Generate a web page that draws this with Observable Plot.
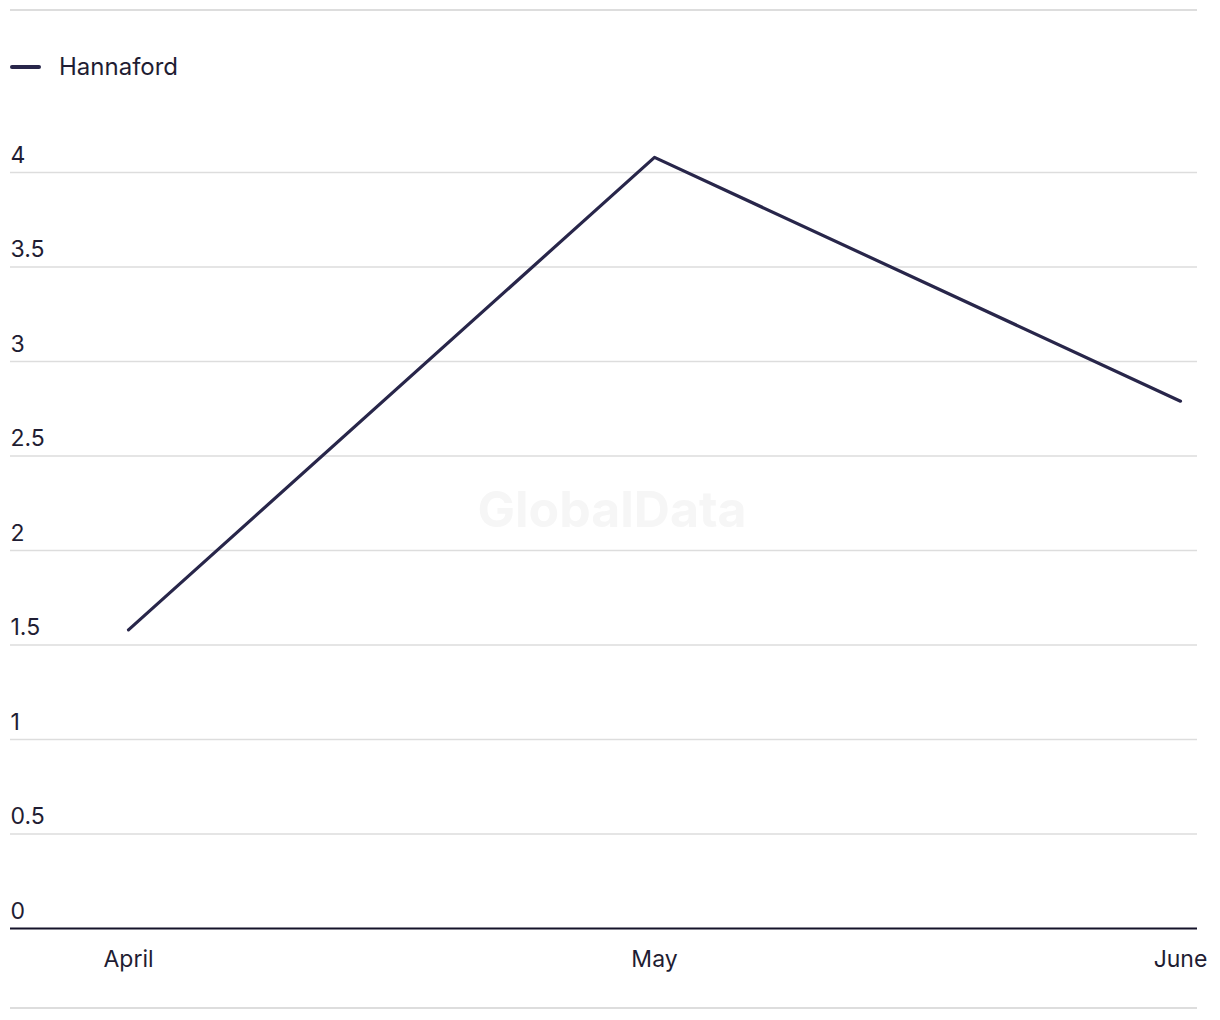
<!DOCTYPE html>
<html>
<head>
<meta charset="utf-8">
<script src="https://cdn.jsdelivr.net/npm/d3@7"></script>
<script src="https://cdn.jsdelivr.net/npm/@observablehq/plot@0.6"></script>
<style>
  html, body { margin: 0; padding: 0; background: #fff; }
  body { width: 1220px; height: 1020px; position: relative; font-family: "Inter", "Roboto", sans-serif; color: #1f1d33; overflow: hidden; }
  .rule { position: absolute; left: 10px; width: 1187px; height: 2px; background: #dddddd; }
  #legend { position: absolute; left: 10px; top: 52px; display: flex; align-items: center; font-size: 24px; }
  #legend .sw { width: 31px; height: 4px; background: #28264a; border-radius: 2px; margin-right: 18px; }
  #chart { position: absolute; left: 0; top: 100px; }
</style>
</head>
<body>
<div class="rule" style="top:9px"></div>
<div id="legend"><span class="sw"></span><span>Hannaford</span></div>
<div id="chart"></div>
<div class="rule" style="top:1007px"></div>
<script>
const months = ["April", "May", "June"];
const hannaford = [1.58, 4.08, 2.79];
const yTicks = [0, 0.5, 1, 1.5, 2, 2.5, 3, 3.5, 4];
const seriesName = "Hannaford";

const data = months.map((m, i) => ({month: m, value: hannaford[i], series: seriesName}));

const chart = Plot.plot({
  width: 1220,
  height: 920,
  marginLeft: 10,
  marginRight: 23,
  marginTop: 72,
  marginBottom: 92,
  style: {fontFamily: "Inter, Roboto, sans-serif", fontSize: "24px", color: "#1f1d33", background: "transparent"},
  x: {type: "point", domain: months, range: [127, 1180], padding: 0, label: null},
  y: {domain: [0, 4], range: [828, 72], label: null, axis: null},
  marks: [
    Plot.text(["GlobalData"], {frameAnchor: "middle", dx: 8, dy: -40, text: d => d, fontSize: 50, fontWeight: "bold", fill: "#f6f6f6"}),
    Plot.ruleY(yTicks.filter(d => d !== 0), {stroke: "#dddddd", strokeWidth: 1.5, strokeOpacity: 1}),
    Plot.text(yTicks, {y: d => d, frameAnchor: "left", textAnchor: "start", lineAnchor: "bottom", dy: -10, text: d => String(d), fill: "#1f1d33", fontSize: 23}),
    Plot.axisX({tickSize: 0, tickPadding: 22, fontSize: 23, fill: "#1f1d33", label: null}),
    Plot.line(data, {x: "month", y: "value", stroke: "#28264a", strokeWidth: 3.2}),
    Plot.ruleY([0], {stroke: "#15132a", strokeWidth: 2})
  ]
});
document.getElementById("chart").appendChild(chart);
</script>
</body>
</html>
